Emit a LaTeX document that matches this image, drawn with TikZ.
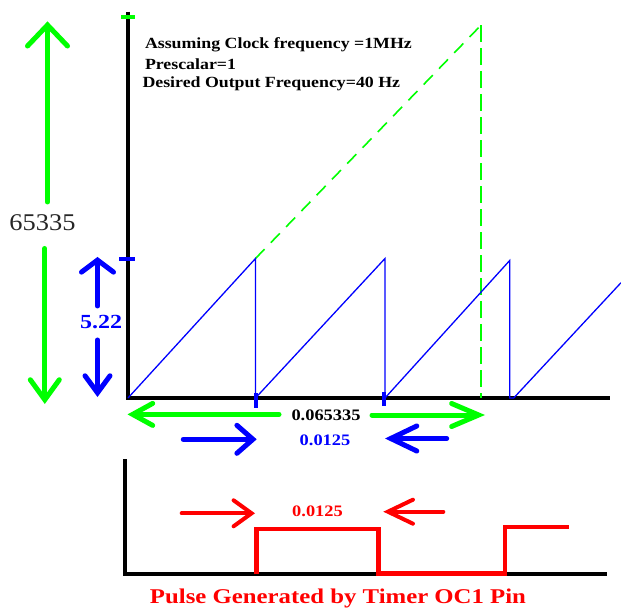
\documentclass[tikz,border=0pt]{standalone}
\usepackage{fontspec}
\setmainfont{Liberation Serif}
\usetikzlibrary{arrows.meta}
\definecolor{grn}{RGB}{0,255,0}
\definecolor{blu}{RGB}{0,0,255}
\definecolor{rd}{RGB}{255,0,0}
\tikzset{
  axisline/.style={draw=black, line width=4.5pt},
  sawline/.style={draw=blu, line width=1.3pt, line join=miter},
  gdash/.style={draw=grn, line width=1.6pt, dash pattern=on 13pt off 9pt},
  gdashv/.style={draw=grn, line width=2.2pt, dash pattern=on 17pt off 6pt},
  pulseline/.style={draw=rd, line width=4.5pt},
  tickline/.style={line width=4pt},
  garrow/.style={draw=grn, line width=5pt, line cap=round},
  barrow/.style={draw=blu, line width=5pt, line cap=round},
  rarrow/.style={draw=rd, line width=4pt, line cap=round},
  barb/.style 2 args={-{Straight Barb[length=#1, width=#2, line cap=round]}},
  lbl/.style={inner sep=0pt, outer sep=0pt},
}
\begin{document}
\begin{tikzpicture}[x=1pt,y=-1pt]
\useasboundingbox[fill=white] (0,0) rectangle (621,609);
% main axes
\coordinate (Ytop) at (128,11.7);
\coordinate (O) at (128,398);
\coordinate (Xend) at (610,398);
\draw[axisline] (Ytop) -- (O) -- (Xend);
% ticks on y axis
\coordinate (gt1) at (121,17); \coordinate (gt2) at (135,17);
\draw[tickline, draw=grn] (gt1) -- (gt2);
\coordinate (bt1) at (119,259.5); \coordinate (bt2) at (135,259.5);
\draw[tickline, draw=blu] (bt1) -- (bt2);
% green dashed full-count ramp
\coordinate (P1) at (255.5,258.5);
\coordinate (G1) at (481,25.2);
\coordinate (G0) at (481,398);
\draw[gdash] (P1) -- (G1);
\draw[gdashv] (G1) -- (G0);
% blue sawtooth
\coordinate (D1) at (255.5,398);
\coordinate (P2) at (385,258.5);
\coordinate (D2) at (385,398);
\coordinate (P3) at (509.7,260.5);
\coordinate (D3) at (509.7,398);
\coordinate (S4) at (513.7,398);
\coordinate (E4) at (621,282.7);
\draw[sawline] (O) -- (P1) -- (D1) -- (P2) -- (D2) -- (P3) -- (D3) -- (S4) -- (E4);
\coordinate (k1a) at (256,393); \coordinate (k1b) at (256,407.5);
\coordinate (k2a) at (384,392); \coordinate (k2b) at (384,405.5);
\draw[tickline, draw=blu] (k1a) -- (k1b);
\draw[tickline, draw=blu] (k2a) -- (k2b);
% text block
\node[lbl, anchor=west] (t1) at (145,45) {\scalebox{1.15}[1]{\fontsize{15.5}{18}\selectfont\bfseries Assuming Clock frequency =1MHz}};
\node[lbl, anchor=west] (t2) at (145,64.5) {\scalebox{1.15}[1]{\fontsize{15.5}{18}\selectfont\bfseries Prescalar=1}};
\node[lbl, anchor=west] (t3) at (142.5,83.5) {\scalebox{1.15}[1]{\fontsize{15.5}{18}\selectfont\bfseries Desired Output Frequency=40 Hz}};
% left vertical green arrows with 65335
\node[lbl, text=black!85] (n65) at (42.5,222.5) {\scalebox{1.1}[1]{\fontsize{24}{28}\selectfont 65335}};
\coordinate (gu0) at (47.5,202); \coordinate (gu1) at (47.5,21.4);
\draw[garrow, barb={21pt}{40pt}] (gu0) -- (gu1);
\coordinate (gd0) at (44.8,248.5); \coordinate (gd1) at (44.8,404);
\draw[garrow, barb={20pt}{29pt}] (gd0) -- (gd1);
% blue vertical arrows with 5.22
\node[lbl, text=blu] (n522) at (101,321.6) {\scalebox{1.2}[1]{\fontsize{20}{24}\selectfont\bfseries 5.22}};
\coordinate (bu0) at (97.5,306); \coordinate (bu1) at (97.5,257);
\draw[barrow, barb={12pt}{32pt}] (bu0) -- (bu1);
\coordinate (bd0) at (97.5,340); \coordinate (bd1) at (97.5,397);
\draw[barrow, barb={17pt}{25pt}] (bd0) -- (bd1);
% horizontal green arrows with 0.065335
\node[lbl, text=black] (n0653) at (326,414.8) {\scalebox{1.15}[1]{\fontsize{16}{19}\selectfont\bfseries 0.065335}};
\coordinate (gl0) at (279,414.4); \coordinate (gl1) at (127.5,414.4);
\draw[garrow, barb={20pt}{22pt}] (gl0) -- (gl1);
\coordinate (gr0) at (372,415); \coordinate (gr1) at (485,415);
\draw[garrow, barb={27pt}{23pt}] (gr0) -- (gr1);
% horizontal blue arrows with 0.0125
\node[lbl, text=blu] (nb125) at (325,440.7) {\scalebox{1.15}[1]{\fontsize{16}{19}\selectfont\bfseries 0.0125}};
\coordinate (br0) at (183.3,439.3); \coordinate (br1) at (256.7,439.3);
\draw[barrow, barb={16pt}{28pt}] (br0) -- (br1);
\coordinate (bl0) at (446.7,438.5); \coordinate (bl1) at (385,438.5);
\draw[barrow, barb={26pt}{25pt}] (bl0) -- (bl1);
% lower axes
\coordinate (Ltop) at (125,459);
\coordinate (LO) at (125,574.3);
\coordinate (Lend) at (607,574.3);
\draw[axisline, line width=4pt] (Ltop) -- (LO) -- (Lend);
% red pulse
\coordinate (r1) at (256.7,574.3);
\coordinate (r2) at (256.7,529);
\coordinate (r3) at (378.3,529);
\coordinate (r4) at (378.3,573.5);
\coordinate (r5) at (505,573.5);
\coordinate (r6) at (505,527);
\coordinate (r7) at (569.3,527);
\draw[pulseline] (r1) -- (r2) -- (r3) -- (r4) -- (r5) -- (r6) -- (r7);
% red arrows with 0.0125
\node[lbl, text=rd] (nr125) at (317.5,511.7) {\scalebox{1.15}[1]{\fontsize{16}{19}\selectfont\bfseries 0.0125}};
\coordinate (rr0) at (181.7,513.3); \coordinate (rr1) at (255,513.3);
\draw[rarrow, barb={18pt}{26pt}] (rr0) -- (rr1);
\coordinate (rl0) at (443.3,511.7); \coordinate (rl1) at (383.3,511.7);
\draw[rarrow, barb={25pt}{24pt}] (rl0) -- (rl1);
% caption
\node[lbl, anchor=base, text=rd] (cap) at (338,603) {\scalebox{1.18}[1]{\fontsize{21}{25}\selectfont\bfseries Pulse Generated by Timer OC1 Pin}};
\end{tikzpicture}
\end{document}
